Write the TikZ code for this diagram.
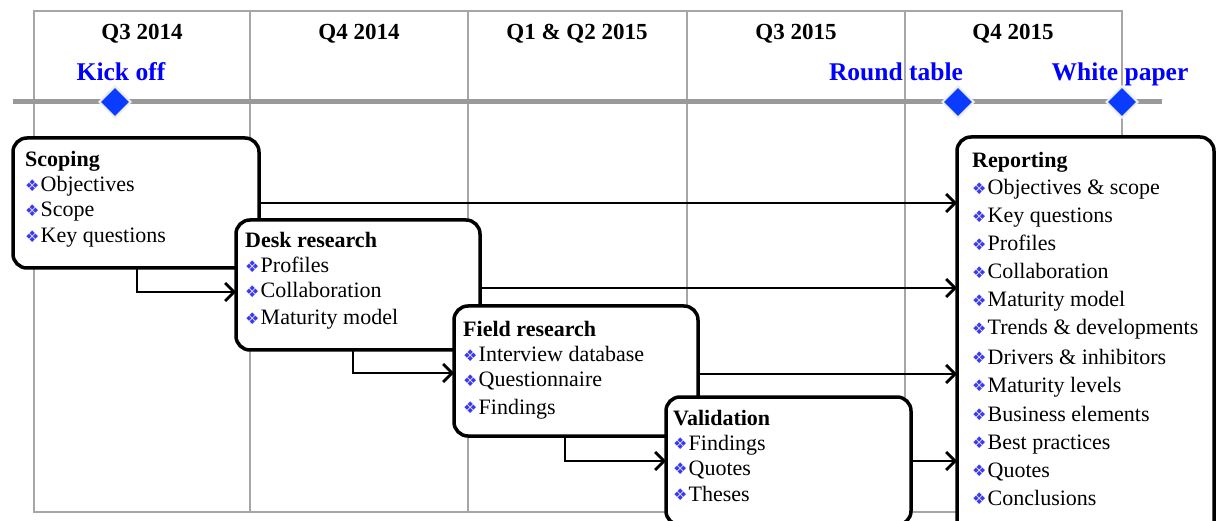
\documentclass[tikz,border=0pt]{standalone}
\usepackage{fontspec}
\setmainfont{Liberation Serif}
\newfontfamily\dejavu{DejaVu Sans}
\usetikzlibrary{shapes.geometric,arrows.meta}
\definecolor{gridgray}{HTML}{A6A6A6}
\definecolor{linegray}{HTML}{999999}
\definecolor{msblue}{HTML}{0000FF}
\definecolor{diamblue}{HTML}{0A3CFF}
\definecolor{bulblue}{HTML}{3A3AF0}
\newcommand\bul{\makebox[15.5pt][l]{\raisebox{0.5pt}{\color{bulblue}\dejavu\fontsize{16}{16}\selectfont ❖}}}
\begin{document}
\begin{tikzpicture}[x=1pt,y=-1pt,
  grid/.style={draw=gridgray,line width=2pt},
  box/.style={draw=black,fill=white,line width=3.5pt,rounded corners=14pt,anchor=north west,inner sep=0,outer sep=0},
  ttl/.style={anchor=base west,inner sep=0,font=\fontsize{22}{26}\selectfont\bfseries},
  itm/.style={anchor=base west,inner sep=0,font=\fontsize{22}{26}\selectfont},
  hdr/.style={anchor=base,inner sep=0,font=\fontsize{23}{26}\selectfont\bfseries},
  mile/.style={anchor=base,inner sep=0,text=msblue,font=\fontsize{25.5}{28}\selectfont\bfseries},
  dia/.style={diamond,fill=diamblue,draw=gray!15,line width=2pt,minimum width=32pt,minimum height=32pt,inner sep=0},
  arr/.style={line width=2.8pt,-{Straight Barb[length=9pt,width=18pt,line width=2.8pt]}},
]
\useasboundingbox (0,0) rectangle (1216,521);
% grid
\draw[grid] (34,11) rectangle (1122,512);
\foreach \x in {250,468,687,905} \draw[grid] (\x,11) -- (\x,512);
% headers
\node[hdr] (h1) at (142,40) {Q3 2014};
\node[hdr] (h2) at (359,40) {Q4 2014};
\node[hdr] (h3) at (577,40) {Q1 \& Q2 2015};
\node[hdr] (h4) at (796,40) {Q3 2015};
\node[hdr] (h5) at (1013,40) {Q4 2015};
% timeline
\coordinate (tl0) at (13,102);
\coordinate (tl1) at (1162,102);
\draw[linegray,line width=5pt] (tl0) -- (tl1);
\node[dia] (d1) at (115,102) {};
\node[dia] (d2) at (958,102) {};
\node[dia] (d3) at (1122,102) {};
\node[mile] (m1) at (121,81) {Kick off};
\node[mile] (m2) at (896,81) {Round table};
\node[mile] (m3) at (1120,81) {White paper};
% boxes
\node[box,minimum width=246pt,minimum height=130pt] (scope) at (13,138) {};
\node[box,minimum width=244pt,minimum height=130pt] (desk) at (236,220) {};
\node[box,minimum width=244pt,minimum height=130pt] (field) at (454,306) {};
\node[box,minimum width=245pt,minimum height=128pt] (val) at (666,397) {};
\node[box,minimum width=257pt,minimum height=400pt] (rep) at (957,137) {};
% texts
\node[ttl] (sct) at (25,167) {Scoping};
\foreach \y/\t [count=\i] in {192/Objectives,217/Scope,243/Key questions}
  \node[itm] (sc\i) at (25,\y) {\bul\t};
\node[ttl] (dst) at (245,248) {Desk research};
\foreach \y/\t [count=\i] in {273/Profiles,298/Collaboration,325/Maturity model}
  \node[itm] (ds\i) at (245,\y) {\bul\t};
\node[ttl] (frt) at (463,337) {Field research};
\foreach \y/\t [count=\i] in {362/Interview database,387/Questionnaire,414/Findings}
  \node[itm] (fr\i) at (463,\y) {\bul\t};
\node[ttl] (vat) at (673,425) {Validation};
\foreach \y/\t [count=\i] in {450/Findings,475/Quotes,501/Theses}
  \node[itm] (va\i) at (673,\y) {\bul\t};
\node[ttl] (rpt) at (972,168) {Reporting};
\foreach \y/\t [count=\i] in {195/Objectives \& scope,223/Key questions,251/Profiles,279/Collaboration,307/Maturity model,335/Trends \& developments,364/Drivers \& inhibitors,392/Maturity levels,421/Business elements,449/Best practices,477/Quotes,505/Conclusions}
  \node[itm] (rp\i) at (972,\y) {\bul\t};
% arrows to reporting
\draw[arr] (scope.east) -- (scope.east -| rep.west);
\draw[arr] ([yshift=-3pt]desk.east) -- ([yshift=-3pt]desk.east -| rep.west);
\draw[arr] ([yshift=-3pt]field.east) -- ([yshift=-3pt]field.east -| rep.west);
\draw[arr] (val.east) -- (val.east -| rep.west);
% elbow arrows
\draw[arr] ([xshift=1pt]scope.south) |- ([yshift=-7pt]desk.west);
\draw[arr] ([xshift=-5pt]desk.south) |- ([yshift=-2pt]field.west);
\draw[arr] ([xshift=-11pt]field.south) |- (val.west);
\end{tikzpicture}
\end{document}
